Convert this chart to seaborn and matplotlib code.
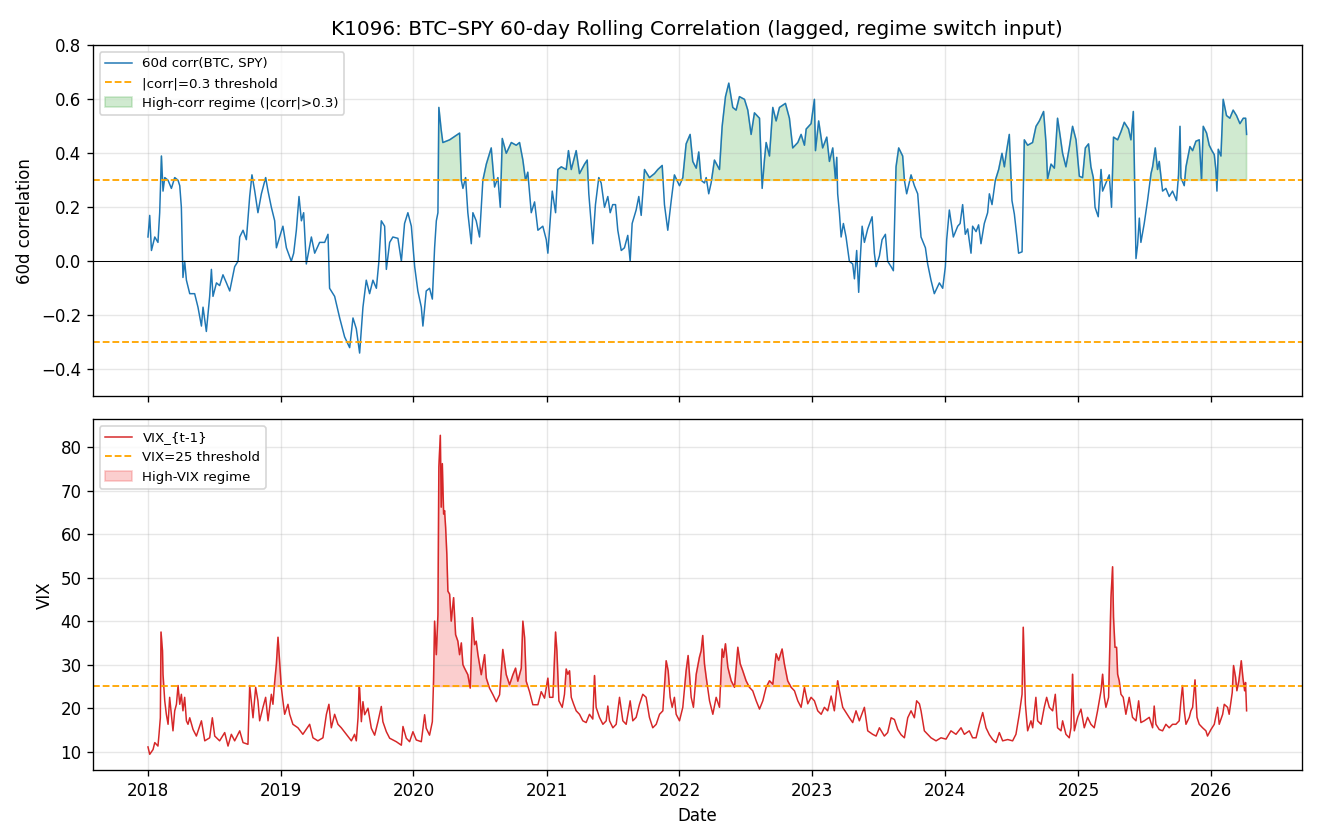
import matplotlib
matplotlib.use("Agg")
import matplotlib.pyplot as plt
import numpy as np
import pandas as pd
import seaborn as sns

# time stamps are years elapsed since 2018-01-01
corr_t = [
    0.002, 0.015, 0.028, 0.053, 0.077, 0.090, 0.103, 0.115, 0.128, 0.153, 0.178, 0.203, 0.228, 0.241,
    0.253, 0.265, 0.278, 0.291, 0.316, 0.353, 0.378, 0.404, 0.416, 0.441, 0.466, 0.479, 0.491, 0.517,
    0.541, 0.566, 0.592, 0.617, 0.654, 0.679, 0.692, 0.717, 0.742, 0.767, 0.784, 0.805, 0.829, 0.855,
    0.887, 0.905, 0.930, 0.955, 0.968, 0.992, 1.017, 1.043, 1.080, 1.098, 1.118, 1.138, 1.156, 1.173,
    1.193, 1.231, 1.256, 1.293, 1.331, 1.356, 1.368, 1.406, 1.444, 1.481, 1.519, 1.544, 1.569, 1.594,
    1.619, 1.644, 1.669, 1.694, 1.720, 1.739, 1.757, 1.782, 1.795, 1.820, 1.844, 1.882, 1.908, 1.932,
    1.957, 1.983, 2.008, 2.032, 2.058, 2.070, 2.095, 2.120, 2.141, 2.158, 2.171, 2.183, 2.190, 2.208,
    2.220, 2.271, 2.346, 2.359, 2.371, 2.391, 2.408, 2.434, 2.446, 2.471, 2.496, 2.521, 2.547, 2.584,
    2.609, 2.634, 2.652, 2.667, 2.697, 2.735, 2.772, 2.797, 2.822, 2.842, 2.859, 2.885, 2.910, 2.935,
    2.972, 2.998, 3.010, 3.023, 3.043, 3.068, 3.085, 3.111, 3.148, 3.165, 3.186, 3.223, 3.248, 3.286,
    3.306, 3.318, 3.336, 3.348, 3.368, 3.393, 3.411, 3.436, 3.461, 3.479, 3.498, 3.519, 3.536, 3.562,
    3.586, 3.611, 3.629, 3.644, 3.674, 3.694, 3.712, 3.737, 3.774, 3.812, 3.837, 3.870, 3.887, 3.912,
    3.938, 3.962, 4.000, 4.025, 4.050, 4.080, 4.100, 4.126, 4.145, 4.163, 4.188, 4.201, 4.220, 4.238,
    4.263, 4.301, 4.321, 4.346, 4.371, 4.401, 4.426, 4.451, 4.489, 4.514, 4.539, 4.564, 4.602, 4.614,
    4.622, 4.639, 4.652, 4.677, 4.702, 4.727, 4.752, 4.797, 4.827, 4.852, 4.890, 4.915, 4.940, 4.953,
    4.990, 5.015, 5.023, 5.047, 5.077, 5.108, 5.128, 5.153, 5.173, 5.183, 5.190, 5.203, 5.216, 5.233,
    5.253, 5.278, 5.303, 5.316, 5.333, 5.348, 5.359, 5.374, 5.391, 5.416, 5.449, 5.466, 5.479, 5.504,
    5.524, 5.549, 5.566, 5.592, 5.609, 5.629, 5.649, 5.679, 5.692, 5.709, 5.742, 5.767, 5.792, 5.817,
    5.850, 5.867, 5.892, 5.917, 5.955, 5.980, 6.000, 6.010, 6.030, 6.060, 6.093, 6.111, 6.130, 6.150,
    6.168, 6.193, 6.205, 6.231, 6.250, 6.268, 6.293, 6.318, 6.331, 6.351, 6.376, 6.401, 6.426, 6.444,
    6.461, 6.481, 6.501, 6.519, 6.536, 6.551, 6.577, 6.594, 6.619, 6.656, 6.682, 6.707, 6.739, 6.757,
    6.769, 6.795, 6.820, 6.844, 6.862, 6.882, 6.907, 6.932, 6.957, 6.983, 7.008, 7.032, 7.053, 7.077,
    7.095, 7.113, 7.126, 7.150, 7.171, 7.183, 7.208, 7.233, 7.250, 7.265, 7.296, 7.321, 7.346, 7.378,
    7.396, 7.414, 7.421, 7.434, 7.446, 7.459, 7.471, 7.496, 7.521, 7.547, 7.559, 7.579, 7.596, 7.609,
    7.634, 7.659, 7.684, 7.709, 7.739, 7.754, 7.765, 7.772, 7.797, 7.810, 7.840, 7.860, 7.885, 7.910,
    7.927, 7.940, 7.965, 7.985, 8.005, 8.023, 8.035, 8.043, 8.053, 8.073, 8.090, 8.115, 8.140, 8.165,
    8.190, 8.216, 8.241, 8.259, 8.266,
]
corr_val = [
    0.09, 0.17, 0.04, 0.09, 0.07, 0.18, 0.39, 0.26, 0.31, 0.30, 0.27, 0.31, 0.30, 0.28,
    0.20, -0.06, 0.00, -0.07, -0.12, -0.12, -0.17, -0.24, -0.17, -0.26, -0.13, -0.03, -0.13, -0.08,
    -0.09, -0.05, -0.08, -0.11, -0.02, 0.00, 0.09, 0.115, 0.08, 0.24, 0.32, 0.26, 0.18, 0.25,
    0.31, 0.26, 0.20, 0.15, 0.05, 0.09, 0.13, 0.05, 0.00, 0.03, 0.115, 0.24, 0.15, 0.18,
    -0.01, 0.09, 0.03, 0.07, 0.07, 0.10, -0.10, -0.13, -0.21, -0.28, -0.32, -0.21, -0.25, -0.34,
    -0.17, -0.07, -0.12, -0.07, -0.10, 0.00, 0.15, 0.13, -0.03, 0.07, 0.09, 0.085, 0.00, 0.14,
    0.18, 0.13, -0.02, -0.11, -0.17, -0.24, -0.11, -0.10, -0.14, 0.05, 0.15, 0.18, 0.57, 0.485,
    0.44, 0.45, 0.475, 0.30, 0.27, 0.31, 0.18, 0.065, 0.18, 0.15, 0.09, 0.30, 0.36, 0.42,
    0.275, 0.31, 0.20, 0.455, 0.40, 0.44, 0.43, 0.44, 0.375, 0.30, 0.33, 0.18, 0.22, 0.115,
    0.13, 0.08, 0.03, 0.12, 0.26, 0.18, 0.34, 0.35, 0.34, 0.41, 0.34, 0.41, 0.325, 0.36,
    0.375, 0.25, 0.14, 0.065, 0.21, 0.31, 0.29, 0.20, 0.24, 0.18, 0.21, 0.21, 0.115, 0.04,
    0.05, 0.096, 0.00, 0.14, 0.19, 0.24, 0.17, 0.34, 0.31, 0.325, 0.34, 0.355, 0.21, 0.115,
    0.225, 0.32, 0.28, 0.31, 0.435, 0.47, 0.37, 0.345, 0.405, 0.30, 0.29, 0.31, 0.25, 0.29,
    0.375, 0.34, 0.50, 0.61, 0.66, 0.57, 0.56, 0.61, 0.60, 0.56, 0.47, 0.55, 0.53, 0.375,
    0.27, 0.375, 0.44, 0.39, 0.57, 0.52, 0.57, 0.585, 0.53, 0.42, 0.44, 0.47, 0.43, 0.49,
    0.51, 0.60, 0.41, 0.52, 0.42, 0.46, 0.37, 0.42, 0.305, 0.385, 0.25, 0.18, 0.09, 0.14,
    0.09, 0.00, -0.01, -0.065, 0.04, -0.115, 0.00, 0.13, 0.07, 0.12, 0.165, 0.03, -0.02, 0.02,
    0.08, 0.10, 0.00, -0.02, -0.035, 0.35, 0.42, 0.39, 0.30, 0.25, 0.32, 0.28, 0.25, 0.09,
    0.05, -0.01, -0.07, -0.12, -0.08, -0.10, -0.02, 0.08, 0.19, 0.09, 0.13, 0.14, 0.21, 0.10,
    0.12, 0.03, 0.13, 0.11, 0.135, 0.065, 0.14, 0.18, 0.25, 0.21, 0.30, 0.34, 0.40, 0.35,
    0.41, 0.47, 0.225, 0.175, 0.10, 0.03, 0.035, 0.45, 0.43, 0.44, 0.50, 0.52, 0.555, 0.44,
    0.305, 0.36, 0.345, 0.53, 0.47, 0.40, 0.35, 0.42, 0.50, 0.45, 0.315, 0.31, 0.42, 0.435,
    0.35, 0.31, 0.20, 0.165, 0.34, 0.26, 0.29, 0.32, 0.20, 0.46, 0.45, 0.48, 0.515, 0.49,
    0.45, 0.555, 0.375, 0.01, 0.06, 0.16, 0.07, 0.14, 0.225, 0.325, 0.35, 0.42, 0.34, 0.37,
    0.26, 0.27, 0.24, 0.26, 0.225, 0.32, 0.50, 0.31, 0.28, 0.35, 0.425, 0.41, 0.445, 0.45,
    0.30, 0.50, 0.475, 0.43, 0.41, 0.395, 0.34, 0.26, 0.415, 0.39, 0.60, 0.54, 0.53, 0.56,
    0.54, 0.51, 0.53, 0.53, 0.47,
]

vix_t = [
    0.002, 0.015, 0.040, 0.053, 0.077, 0.085, 0.095, 0.100, 0.111, 0.115, 0.128, 0.140, 0.153, 0.165,
    0.178, 0.190, 0.203, 0.216, 0.228, 0.241, 0.253, 0.265, 0.278, 0.291, 0.303, 0.316, 0.341, 0.366,
    0.404, 0.429, 0.466, 0.486, 0.504, 0.541, 0.579, 0.604, 0.629, 0.654, 0.692, 0.717, 0.754, 0.767,
    0.792, 0.812, 0.829, 0.842, 0.867, 0.887, 0.905, 0.930, 0.942, 0.955, 0.968, 0.980, 0.992, 1.005,
    1.017, 1.030, 1.055, 1.068, 1.092, 1.130, 1.167, 1.218, 1.243, 1.280, 1.318, 1.344, 1.363, 1.381,
    1.406, 1.431, 1.456, 1.494, 1.532, 1.556, 1.569, 1.582, 1.590, 1.594, 1.607, 1.619, 1.632, 1.657,
    1.682, 1.707, 1.732, 1.757, 1.769, 1.795, 1.820, 1.870, 1.908, 1.920, 1.945, 1.970, 1.995, 2.020,
    2.058, 2.083, 2.095, 2.120, 2.141, 2.150, 2.158, 2.171, 2.183, 2.190, 2.201, 2.208, 2.216, 2.226,
    2.233, 2.241, 2.250, 2.258, 2.271, 2.283, 2.301, 2.316, 2.333, 2.346, 2.359, 2.371, 2.383, 2.408,
    2.426, 2.442, 2.459, 2.471, 2.484, 2.509, 2.534, 2.547, 2.571, 2.597, 2.622, 2.647, 2.671, 2.697,
    2.722, 2.747, 2.767, 2.784, 2.810, 2.822, 2.835, 2.847, 2.872, 2.897, 2.935, 2.960, 2.985, 3.010,
    3.023, 3.048, 3.068, 3.078, 3.093, 3.118, 3.135, 3.148, 3.160, 3.173, 3.186, 3.203, 3.223, 3.248,
    3.273, 3.298, 3.323, 3.348, 3.361, 3.373, 3.398, 3.424, 3.449, 3.461, 3.474, 3.499, 3.524, 3.549,
    3.574, 3.599, 3.629, 3.649, 3.674, 3.699, 3.724, 3.749, 3.774, 3.799, 3.825, 3.850, 3.875, 3.900,
    3.915, 3.930, 3.945, 3.962, 3.975, 4.000, 4.025, 4.050, 4.065, 4.088, 4.105, 4.126, 4.150, 4.163,
    4.175, 4.188, 4.201, 4.226, 4.251, 4.276, 4.301, 4.321, 4.331, 4.346, 4.364, 4.389, 4.414, 4.439,
    4.457, 4.476, 4.501, 4.526, 4.551, 4.577, 4.602, 4.627, 4.652, 4.677, 4.702, 4.727, 4.746, 4.772,
    4.789, 4.814, 4.840, 4.865, 4.890, 4.915, 4.940, 4.965, 4.990, 5.015, 5.040, 5.066, 5.090, 5.115,
    5.141, 5.165, 5.190, 5.203, 5.228, 5.253, 5.278, 5.303, 5.328, 5.353, 5.391, 5.416, 5.453, 5.479,
    5.504, 5.541, 5.566, 5.592, 5.617, 5.642, 5.667, 5.692, 5.717, 5.742, 5.767, 5.784, 5.805, 5.817,
    5.842, 5.867, 5.892, 5.930, 5.967, 6.005, 6.042, 6.080, 6.118, 6.143, 6.180, 6.205, 6.231, 6.256,
    6.281, 6.306, 6.331, 6.356, 6.381, 6.406, 6.431, 6.469, 6.506, 6.531, 6.556, 6.577, 6.586, 6.602,
    6.619, 6.644, 6.657, 6.681, 6.694, 6.720, 6.744, 6.762, 6.782, 6.807, 6.827, 6.844, 6.870, 6.882,
    6.907, 6.932, 6.945, 6.957, 6.970, 6.995, 7.020, 7.045, 7.070, 7.095, 7.120, 7.145, 7.171, 7.183,
    7.196, 7.208, 7.228, 7.246, 7.258, 7.265, 7.276, 7.288, 7.296, 7.308, 7.321, 7.338, 7.358, 7.383,
    7.408, 7.434, 7.454, 7.471, 7.496, 7.534, 7.559, 7.571, 7.584, 7.609, 7.634, 7.659, 7.684, 7.709,
    7.734, 7.759, 7.772, 7.784, 7.797, 7.810, 7.835, 7.847, 7.860, 7.878, 7.893, 7.910, 7.935, 7.960,
    7.972, 7.998, 8.023, 8.048, 8.060, 8.086, 8.098, 8.123, 8.135, 8.158, 8.168, 8.183, 8.193, 8.208,
    8.226, 8.238, 8.251, 8.258, 8.266,
]
vix_val = [
    11.1, 9.4, 10.5, 12.1, 11.3, 14.0, 17.8, 37.5, 33.2, 27.8, 21.7, 18.6, 16.3, 22.5,
    18.6, 14.8, 19.4, 20.9, 25.2, 20.9, 23.2, 19.4, 22.5, 17.1, 16.3, 17.8, 15.1, 13.6,
    17.1, 12.5, 13.2, 17.8, 13.6, 12.5, 14.4, 11.3, 14.0, 12.5, 14.8, 12.1, 11.7, 25.2,
    17.8, 24.8, 21.7, 17.1, 20.2, 22.5, 17.1, 23.2, 20.9, 26.0, 30.2, 36.3, 30.9, 24.8,
    21.7, 18.6, 20.9, 18.6, 16.3, 15.5, 14.0, 16.3, 13.2, 12.5, 13.2, 18.6, 20.9, 15.5,
    18.6, 16.3, 15.5, 14.0, 12.5, 14.0, 12.5, 17.8, 24.8, 24.6, 16.9, 21.5, 18.5, 20.0,
    15.4, 13.8, 16.9, 20.4, 16.9, 14.6, 13.1, 12.3, 11.5, 15.8, 13.1, 12.3, 14.6, 12.7,
    12.3, 18.5, 15.4, 13.8, 16.9, 26.2, 40.0, 32.3, 41.5, 75.4, 82.7, 66.2, 76.2, 64.6,
    65.4, 61.5, 55.4, 46.9, 46.2, 40.0, 45.4, 36.9, 35.4, 32.3, 35.0, 30.0, 29.2, 27.7,
    24.6, 40.8, 34.6, 35.4, 32.3, 27.7, 32.3, 26.9, 24.6, 23.1, 21.5, 23.1, 33.5, 27.7,
    25.4, 27.7, 29.2, 26.2, 29.2, 40.0, 36.2, 26.2, 23.8, 20.8, 20.8, 23.8, 22.3, 26.9,
    22.5, 22.5, 37.5, 33.2, 21.7, 20.2, 23.2, 29.0, 27.8, 28.6, 22.5, 21.0, 19.4, 18.6,
    17.1, 16.7, 18.6, 17.5, 27.5, 20.2, 17.9, 16.3, 17.1, 20.5, 17.1, 15.5, 16.3, 22.5,
    17.1, 16.3, 21.7, 17.1, 17.9, 20.9, 23.2, 22.5, 17.9, 15.5, 16.3, 18.6, 19.4, 30.9,
    28.6, 22.5, 20.2, 22.5, 18.6, 17.1, 20.2, 28.6, 32.1, 22.5, 20.2, 27.8, 31.7, 33.2,
    36.7, 30.2, 27.1, 21.7, 18.6, 22.5, 20.2, 33.6, 31.7, 34.8, 29.4, 26.3, 24.8, 34.0,
    30.2, 28.6, 26.3, 24.8, 24.0, 21.7, 19.8, 21.7, 24.8, 26.3, 25.5, 32.5, 31.0, 33.6,
    30.2, 26.3, 24.8, 24.0, 21.7, 20.2, 24.8, 21.0, 22.5, 21.7, 19.4, 18.6, 20.2, 19.4,
    22.8, 19.4, 26.3, 24.0, 20.2, 19.0, 17.8, 16.7, 19.4, 17.1, 20.2, 14.8, 14.0, 13.6,
    15.5, 13.6, 14.4, 17.8, 17.4, 15.1, 13.9, 13.2, 17.8, 19.4, 17.8, 21.7, 21.0, 19.4,
    14.8, 14.0, 13.2, 12.5, 13.2, 12.9, 14.8, 14.0, 15.5, 14.0, 14.8, 13.2, 13.2, 16.3,
    19.0, 15.5, 13.9, 12.8, 12.1, 14.4, 12.5, 12.8, 12.5, 14.0, 18.6, 23.2, 38.6, 20.9,
    14.8, 17.1, 15.5, 22.5, 17.1, 16.3, 20.2, 22.5, 20.2, 19.4, 23.2, 15.5, 14.8, 17.1,
    14.0, 13.2, 15.5, 27.8, 14.8, 17.9, 19.8, 15.5, 17.9, 16.3, 15.5, 19.4, 24.0, 27.8,
    22.5, 20.2, 22.5, 45.5, 52.5, 40.9, 34.0, 34.0, 27.8, 26.3, 23.2, 22.5, 18.6, 22.5,
    17.9, 17.1, 21.7, 16.7, 17.1, 17.9, 15.5, 20.5, 16.3, 15.1, 14.8, 16.3, 15.5, 16.3,
    16.3, 17.1, 21.7, 25.2, 19.4, 16.3, 17.9, 19.4, 20.2, 26.5, 17.9, 16.3, 15.5, 14.8,
    13.6, 15.1, 16.3, 20.2, 16.3, 18.6, 20.9, 20.2, 18.6, 23.6, 29.8, 27.1, 24.0, 26.3,
    30.9, 27.1, 24.0, 25.9, 19.4,
]

corr_thr = 0.3
vix_thr = 25

start = pd.Timestamp("2018-01-01")
corr_df = pd.DataFrame({
    "date": start + pd.to_timedelta(np.array(corr_t) * 365.25, unit="D"),
    "corr": corr_val,
})
vix_df = pd.DataFrame({
    "date": start + pd.to_timedelta(np.array(vix_t) * 365.25, unit="D"),
    "vix": vix_val,
})

fig, (ax1, ax2) = plt.subplots(2, 1, figsize=(11, 7), dpi=120, sharex=True)
fig.subplots_adjust(left=0.0705, right=0.986, top=0.946, bottom=0.083, hspace=0.066)

# top: rolling correlation
sns.lineplot(data=corr_df, x="date", y="corr", ax=ax1, color="#1f77b4",
             linewidth=0.9, label="60d corr(BTC, SPY)")
ax1.axhline(corr_thr, color="orange", ls="--", lw=1.1, label="|corr|=0.3 threshold")
ax1.axhline(-corr_thr, color="orange", ls="--", lw=1.1)
ax1.axhline(0, color="black", lw=0.6)
c = corr_df["corr"].to_numpy()
ax1.fill_between(corr_df["date"], corr_thr, c, where=c > corr_thr, interpolate=True,
                 color="#2ca02c", alpha=0.22, label="High-corr regime (|corr|>0.3)")
ax1.set_ylim(-0.5, 0.8)
ax1.set_ylabel("60d correlation")
ax1.set_xlabel("")
ax1.set_title("K1096: BTC–SPY 60-day Rolling Correlation (lagged, regime switch input)", fontsize=12)
ax1.grid(alpha=0.3)
ax1.legend(loc="upper left", fontsize=8)

# bottom: lagged VIX
sns.lineplot(data=vix_df, x="date", y="vix", ax=ax2, color="#d62728",
             linewidth=0.9, label="VIX_{t-1}")
ax2.axhline(vix_thr, color="orange", ls="--", lw=1.1, label="VIX=25 threshold")
v = vix_df["vix"].to_numpy()
ax2.fill_between(vix_df["date"], vix_thr, v, where=v > vix_thr, interpolate=True,
                 color="#f03c3c", alpha=0.25, label="High-VIX regime")
ax2.set_ylabel("VIX")
ax2.set_xlabel("Date")
ax2.grid(alpha=0.3)
ax2.legend(loc="upper left", fontsize=8)

plt.savefig("out.png", dpi=120)
